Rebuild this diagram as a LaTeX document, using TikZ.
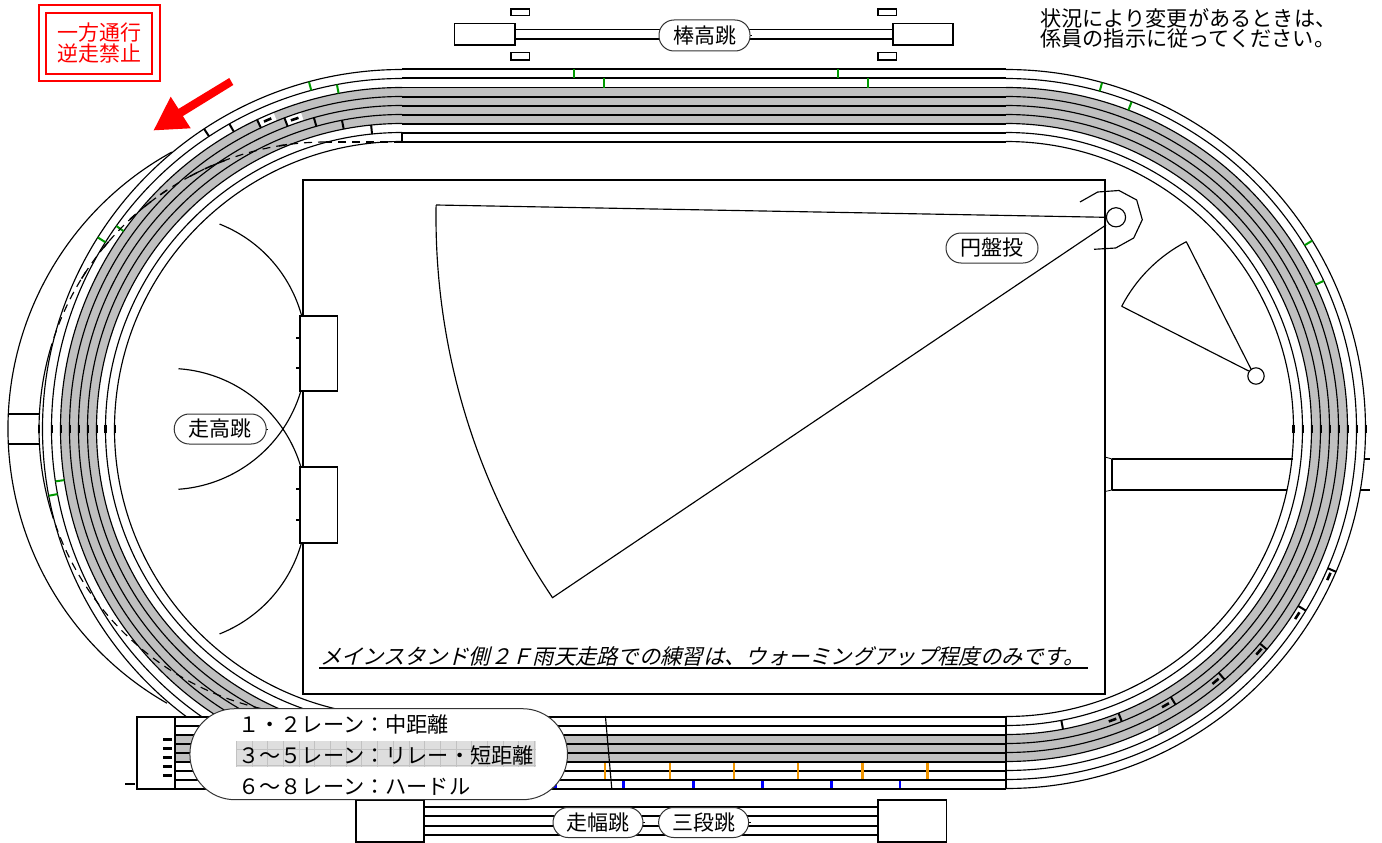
\documentclass[tikz,border=0pt]{standalone}
\usepackage{fontspec}
\setmainfont{Noto Sans CJK JP}
\newfontfamily\slantfont[FakeSlant=0.25]{Noto Sans CJK JP}
\definecolor{trackgrey}{HTML}{C0C0C0}
\definecolor{marker}{HTML}{009A00}
\definecolor{hurdle}{HTML}{F29600}
\definecolor{edgegrey}{HTML}{333333}
\newcommand{\arcseg}[6][]{\draw[#1] ([shift={(#5:#4)}]#2,#3) arc[start angle=#5,end angle=#6,radius=#4];}
\newcommand{\bandseg}[6]{\fill[#1] ([shift={(#5:#4)}]#2,429) arc[start angle=#5,end angle=#6,radius=#4] -- ([shift={(#6:#3)}]#2,429) arc[start angle=#6,end angle=#5,radius=#3] -- cycle;}
\newcommand{\radtick}[4][]{\draw[#1] ([shift={(#3:{#4-4.5})}]#2,429) -- ([shift={(#3:{#4+4.5})}]#2,429);}
\newcommand{\tandash}[4][]{\draw[#1] ([shift={({#3-4/#4*57.3}:#4)}]#2,429) -- ([shift={({#3+4/#4*57.3}:#4)}]#2,429);}
\tikzset{
  x=1pt,y=-1pt,
  thin line/.style={line width=1.15pt,black},
  thick line/.style={line width=1.6pt,black},
  greentick/.style={line width=2pt,marker},
  blacktick/.style={line width=2pt,black},
  thickdash/.style={line width=2.6pt,black},
  pill/.style={draw=edgegrey,line width=1pt,fill=white,rounded corners=15pt,minimum width=92pt,minimum height=30pt,inner sep=0pt,font=\fontsize{21}{21}\selectfont},
  legendtext/.style={anchor=west,inner sep=0pt,font=\fontsize{21.2}{21}\selectfont},
  plainbox/.style={draw=black,line width=1.6pt,fill=white},
}
\begin{document}
\begin{tikzpicture}
\useasboundingbox (0,0) rectangle (1382,843);
\fill[white] (0,0) rectangle (1382,843);

% outer practice arc
\arcseg[thin line]{324}{429}{316}{119.8}{241.2}
\draw[thick line] (8,413.7) -- (39,413.7) (8,444) -- (39,444);

% grey bands
\bandseg{trackgrey}{402}{305.5}{341.5}{90}{270}
\bandseg{trackgrey}{1006}{305.5}{332.5}{-90}{90}
\begin{scope}
  \clip (1006,0) rectangle (1382,429) (1158,429) rectangle (1382,843);
  \bandseg{trackgrey}{1006}{332.5}{341.5}{-90}{90}
\end{scope}
\fill[trackgrey] (402,87.7) rectangle (1006,123.7);
\fill[trackgrey] (175,734.7) rectangle (1006,761.7);
% white pockets at the staggered starts
\bandseg{white}{402}{332.5}{341.5}{244.9}{247.9}
\bandseg{white}{402}{323.5}{332.5}{249.3}{252.3}

% lane lines: curves
\begin{scope}
  \clip (0,0) rectangle (1382,716.7);
  \foreach \r in {287.5,296.5,305.5,314.5,323.5,332.5,341.5,350.5,359.5}{
    \arcseg[thin line]{402}{429}{\r}{90}{270}
  }
\end{scope}
\foreach \r in {287.5,296.5,305.5,314.5,323.5,332.5,341.5,350.5,359.5}{
  \arcseg[thin line]{1006}{429}{\r}{-90}{90}
}
% lane lines: straights
\foreach \y in {69,78,87.7,96.7,105.7,114.7,123.7,132.7,141.7}{
  \draw[thick line] (402,\y) -- (1006,\y);
}
\foreach \y in {725.7,734.7,743.7,752.7,761.7,770.7,779.7,788.7}{
  \draw[thick line] (175,\y) -- (1006,\y);
}
\draw[thick line] (175,716.7) -- (1006,716.7);
\draw[thick line] (1006,716.7) -- (1006,788.7);
\draw[plainbox] (136.7,716.7) rectangle (174.7,788.7);
\foreach \y in {739.3,748.3,757.3,766.3,775.3}{
  \draw[line width=2.4pt] (163,\y) -- (172,\y);
}
\draw[line width=2.4pt] (125,784) -- (135,784);

% marks across the lines on the centre axis
\foreach \x in {39,51.5,60.5,69.5,78.5,87.5,96.5,105.5,114.5,1293.5,1302.5,1311.5,1320.5,1329.5,1338.5,1347.5,1356.5,1365.5}{
  \draw[line width=2pt] (\x,425) -- (\x,433);
}
\draw[line width=3pt] (105.5,425) -- (105.5,433) (1293.5,425) -- (1293.5,433);

% staggered start ticks, upper left
\foreach \a/\r in {236.6/355,240.5/346,244.9/337,249.3/328,254.2/319,259/310,264.2/301}{
  \radtick[blacktick]{402}{\a}{\r}
}
\draw[blacktick] (402,132.7) -- (402,141.7);
\tandash[thickdash]{402}{246.5}{337}
\tandash[thickdash]{402}{250.9}{328}

% staggered start ticks, lower right
\foreach \a/\r in {79.25/301,68.4/310,58.4/319,48.9/328,40.2/337,31.2/346,23.4/355}{
  \radtick[blacktick]{1006}{\a}{\r}
}
\foreach \a/\r in {69.9/310,60/319,50.3/328,41.35/337,32.66/346,24.55/355}{
  \tandash[thickdash]{1006}{\a}{\r}
}

% green marks
\foreach \a/\r in {255/355,259.3/346,212.2/355,215.4/346,169.3/355,171.4/346}{
  \radtick[greentick]{402}{\a}{\r}
}
\foreach \a/\r in {-74.5/355,-69/346,-31.6/355,-25/346}{
  \radtick[greentick]{1006}{\a}{\r}
}
\foreach \x in {574,838}{\draw[greentick] (\x,69) -- (\x,78);}
\foreach \x in {604,868}{\draw[greentick] (\x,78) -- (\x,87.7);}

% orange and blue hurdle marks
\foreach \x in {605,670,734,798,862.5,927.5}{\draw[line width=2.6pt,hurdle] (\x,762.5) -- (\x,779);}
\foreach \x in {555.7,623.6,693.6,762.5,831.4,900}{\draw[line width=2.6pt,blue] (\x,780.5) -- (\x,788);}
\draw[thin line] (605.4,716) -- (611.8,789);

% dashed running line
\draw[thin line,dash pattern=on 8pt off 6pt] (402,142) -- (326,142);
\arcseg[thin line,dash pattern=on 8pt off 6pt]{326}{429}{287}{270}{196.6}
\arcseg[thin line]{326}{429}{287}{196.6}{163.4}
\begin{scope}
  \clip (0,0) rectangle (1382,716.7);
  \arcseg[thin line,dash pattern=on 8pt off 6pt]{326}{429}{287}{163.4}{90}
\end{scope}
\foreach \a in {261.4,248.5,245.8,242.5,235.5,231.6,227.7,220,212.4}{
  \draw[line width=1.5pt] ([shift={({\a-0.8}:287)}]326,429) -- ([shift={({\a+0.8}:287)}]326,429);
}

% field
\draw[plainbox,fill=none] (303,180) rectangle (1105,694);

% high jump
\arcseg[thin line]{168.9}{352}{137.6}{-68.4}{86}
\arcseg[thin line]{168.9}{506}{137.6}{-86}{68.4}
\foreach \y in {337.7,368.3,489.3,519.7}{\draw[line width=2pt] (296,\y) -- (300,\y);}
\draw[plainbox] (299.7,315.7) rectangle (337.3,390.7);
\draw[plainbox] (299.7,466.7) rectangle (337.3,542.7);
\draw[line width=.8pt] (266,429) -- (268,429);
\node[pill] (hj) at (220.2,429) {走高跳};

% discus
\draw[thin line] (1080,202) -- (1097.7,192) -- (1119,190.5) -- (1136.7,200) -- (1142.3,219.7) -- (1133.7,238) -- (1115.7,248) -- (1094,249.3);
\draw[thin line] (1106,217.3) -- (436,205);
\arcseg[thin line]{1116}{217}{680}{181}{146}
\draw[thin line] (552,598) -- (1106,225);
\draw[thin line,fill=white] (1116,217.3) circle[radius=9.6];
\node[pill,minimum width=92pt] (discus) at (992,248) {円盤投};

% second sector
\draw[thin line] (1251,369) -- (1186.3,241.7);
\arcseg[thin line]{1256}{376}{151.3}{242.6}{207.4}
\draw[thin line] (1121.7,306.3) -- (1248.7,371);
\draw[thin line,fill=white] (1256,376) circle[radius=8.2];

% long throw runway, right
\draw[thick line] (1112,459) -- (1293,459) (1112,490) -- (1287,490);
\draw[thick line] (1112,459) -- (1112,490);
\draw[thick line] (1365,459) -- (1370,459) (1360,490) -- (1370,490);
\draw[line width=.8pt] (1105,457) -- (1112,459) (1105,491.5) -- (1112,490);

% pole vault
\draw[thick line] (515,29.7) -- (893,29.7) (515,39) -- (893,39);
\draw[plainbox] (454.5,23.7) rectangle (515,45);
\draw[plainbox] (892.7,23.7) rectangle (953,45);
\foreach \x in {511,877.8}{
  \draw[plainbox] (\x,9) rectangle ++(18.5,6.7);
  \draw[plainbox] (\x,52.7) rectangle ++(18.5,7.3);
}
\draw[line width=.8pt] (749,35) -- (752,35);
\node[pill,minimum width=91pt,minimum height=31pt] (pv) at (704.5,35.5) {棒高跳};

% long jump, triple jump
\foreach \y in {806.7,816,825.7,834.7}{\draw[thick line] (424,\y) -- (878,\y);}
\draw[plainbox] (356,800) rectangle (423.7,842);
\draw[plainbox] (878,800) rectangle (946.4,842);
\draw[line width=.8pt] (642,822.5) -- (645,822.5) (748,822.5) -- (751,822.5);
\node[pill,minimum width=90pt] (lj) at (598,822.5) {走幅跳};
\node[pill,minimum width=90pt] (tj) at (703.6,822.5) {三段跳};

% legend
\node[draw=edgegrey,line width=1pt,fill=white,rounded corners=45pt,minimum width=377.5pt,minimum height=91pt,inner sep=0pt] (legend) at (378.7,754.2) {};
\fill[black!13] (236,741) rectangle (536,767);
\begin{scope}
  \clip (236,741) rectangle (536,767);
  \foreach \i in {0,...,19}{\draw[black!24,line width=.4pt] ({236+15.7*\i},741) -- ({236+15.7*\i},767);}
  \draw[black!24,line width=.4pt] (236,749) -- (536,749) (236,765) -- (536,765);
\end{scope}
\node[legendtext] (l1) at (238,724) {１・２レーン：中距離};
\node[legendtext] (l2) at (238,755) {３〜５レーン：リレー・短距離};
\node[legendtext] (l3) at (238,787) {６〜８レーン：ハードル};

% note in the field
\node[anchor=west,inner sep=0pt,font=\fontsize{21.3}{22}\slantfont] (note) at (320,656) {メインスタンド側２Ｆ雨天走路での練習は、ウォーミングアップ程度のみです。};
\draw[thick line] (319,668) -- (1088,668);

% one-way sign
\draw[red,line width=2pt] (38.7,5.3) rectangle (160.3,81);
\draw[red,line width=2pt] (45.7,12.7) rectangle (152.3,74);
\node[red,inner sep=0pt,font=\fontsize{21}{21}\selectfont] (sign1) at (99,33) {一方通行};
\node[red,inner sep=0pt,font=\fontsize{21}{21}\selectfont] (sign2) at (99,54) {逆走禁止};
\fill[red] (229.3,78) -- (233.3,85) -- (182.9,116.1) -- (190.7,128.3) -- (153.7,130.3) -- (170.7,96.7) -- (178.5,108.9) -- cycle;

% note upper right
\node[anchor=west,inner sep=0pt,font=\fontsize{21.2}{21}\selectfont] (n1) at (1040,18) {状況により変更があるときは、};
\node[anchor=west,inner sep=0pt,font=\fontsize{21.2}{21}\selectfont] (n2) at (1040,38.5) {係員の指示に従ってください。};
\end{tikzpicture}
\end{document}
